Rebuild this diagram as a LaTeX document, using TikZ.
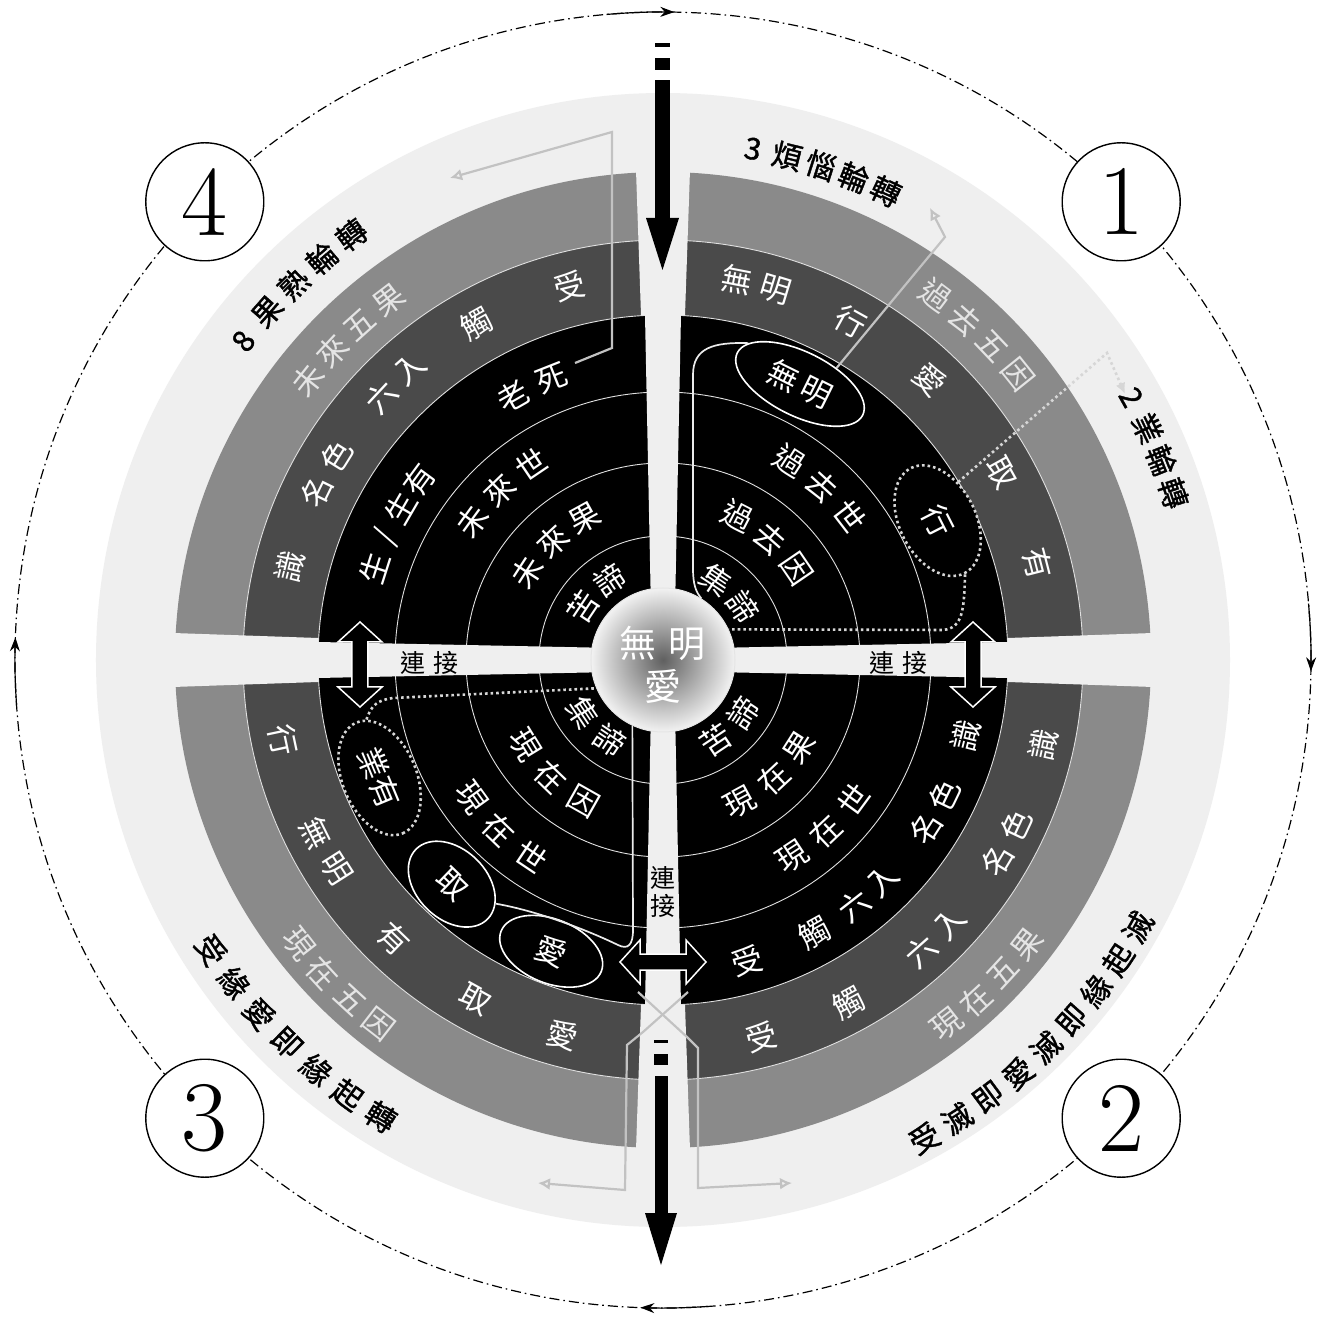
\documentclass[tikz,border=0pt]{standalone}
\usepackage{fontspec}
\newfontfamily\cjk{Noto Sans CJK TC}
\newfontfamily\cjkb{Noto Sans CJK TC}[FakeBold=1.2]
\usetikzlibrary{arrows.meta,shapes.geometric}
\definecolor{lband}{HTML}{8A8A8A}
\definecolor{dband}{HTML}{4A4A4A}
\definecolor{disk}{HTML}{EFEFEF}
\definecolor{lineg}{HTML}{C2C2C2}
\definecolor{bandtext}{HTML}{E4E4E4}
\definecolor{dotc}{HTML}{D6D6D6}
% text along an arc, upper half (reads clockwise, tops outward)
\newcommand\arcT[6][]{%
  \foreach \ch [count=\i] in {#6} {\xdef\wcnt{\i}}%
  \foreach \ch [count=\i] in {#6} {%
    \pgfmathsetmacro\wang{#3+((\wcnt+1)/2-\i)*((#4)/(#2))*57.29578}%
    \node[ringtxt,#1,rotate=\wang-90] (#5-\i) at (\wang:#2) {\ch};%
  }%
}
% text along an arc, lower half (reads counter-clockwise, tops inward)
\newcommand\arcB[6][]{%
  \foreach \ch [count=\i] in {#6} {\xdef\wcnt{\i}}%
  \foreach \ch [count=\i] in {#6} {%
    \pgfmathsetmacro\wang{#3-((\wcnt+1)/2-\i)*((#4)/(#2))*57.29578}%
    \node[ringtxt,#1,rotate=\wang+90] (#5-\i) at (\wang:#2) {\ch};%
  }%
}
\newcommand\dblV[3]{%
  \filldraw[fill=black,draw=white,line width=1.5pt] (#1,#2) -- (#1+22,#2-20) -- (#1+8,#2-20) -- (#1+8,#3+20) -- (#1+22,#3+20) -- (#1,#3) -- (#1-22,#3+20) -- (#1-8,#3+20) -- (#1-8,#2-20) -- (#1-22,#2-20) -- cycle;}
\newcommand\dblH[3]{%
  \filldraw[fill=black,draw=white,line width=1.5pt] (#2,#1) -- (#2+20,#1+22) -- (#2+20,#1+8) -- (#3-20,#1+8) -- (#3-20,#1+22) -- (#3,#1) -- (#3-20,#1-22) -- (#3-20,#1-8) -- (#2+20,#1-8) -- (#2+20,#1-22) -- cycle;}
\begin{document}
\begin{tikzpicture}[x=1pt,y=1pt,
  ringtxt/.style={text=white,font=\cjk\fontsize{31}{31}\selectfont,inner sep=0pt},
  bandtxt/.style={text=bandtext},
  outtxt/.style={text=black,font=\cjkb\fontsize{30}{30}\selectfont},
  ellsolid/.style={ellipse,draw=white,line width=1.6pt,fill=black,text=white,inner sep=0pt,font=\cjk\fontsize{31}{31}\selectfont},
  elldot/.style={ellipse,draw=dotc,line width=2.6pt,dash pattern=on 2.6pt off 3pt,fill=black,text=white,inner sep=0pt,font=\cjk\fontsize{31}{31}\selectfont},
  lasso/.style={draw=white!92!black,line width=1.7pt},
  dotline/.style={draw=dotc,line width=2.6pt,dash pattern=on 2.6pt off 3pt},
  lightline/.style={draw=lineg,line width=2.2pt,-{Latex[open,length=12pt,width=12pt]}},
  conn/.style={text=black,font=\cjk\fontsize{25}{28}\selectfont,inner sep=0pt},
  numc/.style={circle,draw=black,line width=1.4pt,fill=white,minimum size=118,inner sep=0pt,font=\fontsize{100}{100}\selectfont},
  dashcirc/.style={draw=black,line width=1.2pt,dash pattern=on 10pt off 4pt on 1.6pt off 4pt}]
\useasboundingbox (-663,-659) rectangle (667,660);
\fill[white] (-663,-659) rectangle (667,660);
% dashed orbit
\draw[dashcirc] (0,0) circle (648);
\foreach \a in {89,-1,268,178}
  \draw[line width=1.2pt,-{Stealth[length=14pt,width=10pt]}] (\a+6:648) arc[start angle=\a+6,end angle=\a,radius=648];
% disk and bands
\fill[disk] (0,0) circle (567);
\fill[lband] (0,0) circle (488);
\fill[dband] (0,0) circle (420);
\fill[black] (0,0) circle (345);
\foreach \r in {124,197,268,345,420} \draw[white!88!black,line width=0.9pt] (0,0) circle (\r);
% cross gap
\foreach \a in {0,90,180,270}
  \fill[disk,rotate=\a] (-11,0) -- (-18,345) -- (-22,345) -- (-27,490) -- (27,490) -- (22,345) -- (18,345) -- (11,0) -- cycle;
% ---- Quadrant 1 (upper right)
\arcT{96}{45}{38}{qa}{集,諦}
\arcT{162}{48.5}{40}{qb}{過,去,因}
\arcT{236}{47.5}{41}{qc}{過,去,世}
\arcT{387}{76}{40}{qd1}{無,明}
\arcT{387}{61}{36}{qd2}{行}
\arcT{387}{46.5}{36}{qd3}{愛}
\arcT{387}{29}{36}{qd4}{取}
\arcT{387}{14.5}{36}{qd5}{有}
\arcT[bandtxt]{455}{46}{38}{qe}{過,去,五,因}
% ---- Quadrant 2 (upper left)
\arcT{96}{135}{38}{ra}{苦,諦}
\arcT{162}{133}{40}{rb}{未,來,果}
\arcT{236}{134}{41}{rc}{未,來,世}
\arcT{303}{153}{33}{rd1}{生,/,生,有}
\arcT{303}{115.6}{43}{rd2}{老,死}
\arcT{385}{104}{36}{re1}{受}
\arcT{385}{119}{36}{re2}{觸}
\arcT{385}{134}{40}{re3}{六,入}
\arcT{385}{151}{40}{re4}{名,色}
\arcT{385}{166}{36}{re5}{識}
\arcT[bandtxt]{452}{134.5}{38}{rf}{未,來,五,果}
% ---- Quadrant 3 (lower left)
\arcB{96}{225}{38}{sa}{集,諦}
\arcB{162}{226}{41}{sb}{現,在,因}
\arcB{236}{226}{42}{sc}{現,在,世}
\arcB{388}{192}{36}{sd1}{行}
\arcB{388}{209.5}{40}{sd2}{無,明}
\arcB{388}{226}{36}{sd3}{有}
\arcB{388}{241}{36}{sd4}{取}
\arcB{388}{255}{36}{sd5}{愛}
\arcB[bandtxt]{462}{225}{38}{se}{現,在,五,因}
% ---- Quadrant 4 (lower right)
\arcB{96}{315}{38}{ta}{苦,諦}
\arcB{162}{313}{41}{tb}{現,在,果}
\arcB{236}{313.5}{42}{tc}{現,在,世}
\arcB{312}{285.6}{36}{td1}{受}
\arcB{312}{299}{36}{td2}{觸}
\arcB{312}{311.4}{38}{td3}{六,入}
\arcB{312}{330.8}{38}{td4}{名,色}
\arcB{312}{346}{36}{td5}{識}
\arcB{390}{284.7}{36}{te1}{受}
\arcB{390}{298.4}{36}{te2}{觸}
\arcB{390}{314.5}{40}{te3}{六,入}
\arcB{390}{332}{40}{te4}{名,色}
\arcB{390}{347.5}{36}{te5}{識}
\arcB[bandtxt]{462}{315}{38}{tf}{現,在,五,果}
% centre ball
\node[circle,minimum size=144,inner sep=0pt,inner color=gray!75!black,outer color=gray!10,draw=white!90!black,line width=1pt] (ball) at (0,0) {};
% ellipses
\node[ellsolid,minimum width=140,minimum height=64,rotate=-26.4] (e1) at (137,276) {無\hspace{6pt}明};
\node[elldot,minimum width=118,minimum height=76,rotate=-63] (e2) at (26.9:308) {行};
\node[elldot,minimum width=120,minimum height=74,rotate=-67.4] (e3) at (202.6:307) {業有};
\node[ellsolid,minimum width=100,minimum height=70,rotate=-44] (e4) at (226.7:308) {取};
\node[ellsolid,minimum width=108,minimum height=64,rotate=-22] (e5) at (249:312) {愛};
% lasso lines
\draw[lasso] (e1.168) .. controls (50,318) and (30,312) .. (30,285) -- (30,92) .. controls (30,75) and (33,68) .. (ball.58);
\draw[lasso] (e4.20) .. controls (-130,-250) and (-80,-268) .. (-45,-285) .. controls (-35,-290) and (-30,-285) .. (-30,-270) -- (ball.245);
% dotted links
\draw[dotline] (e2.east) .. controls (301,50) and (300,32) .. (280,30) -- (ball.25);
\draw[dotline] (e3.170) .. controls (-292,-45) and (-285,-40) .. (-270,-38) -- (ball.203);
\coordinate (k1) at (444,307);
\coordinate (k2) at (462,266);
\draw[dotline,-{Latex[length=11pt,width=10pt]}] (e2.125) -- (k1) -- (k2);
% light arrows
\coordinate (a1) at (282,423);
\coordinate (a2) at (267,452);
\draw[lightline] (e1.50) -- (a1) -- (a2);
\coordinate (b0) at (-88,297);
\coordinate (b1) at (-51,312);
\coordinate (b2) at (-51,528);
\coordinate (b3) at (-213,482);
\draw[lightline] (b0) -- (b1) -- (b2) -- (b3);
\coordinate (c0) at (-25,-332);
\coordinate (c1) at (24,-377);
\coordinate (c2) at (35,-388);
\coordinate (c3) at (35,-528);
\coordinate (c4) at (129,-523);
\draw[lightline] (c0) -- (c1) -- (c2) -- (c3) -- (c4);
\coordinate (d0) at (25,-332);
\coordinate (d1) at (-20,-372);
\coordinate (d2) at (-36,-385);
\coordinate (d3) at (-38,-530);
\coordinate (d4) at (-125,-523);
\draw[lightline] (d0) -- (d1) -- (d2) -- (d3) -- (d4);
% ball text
\node[text=white,font=\cjk\fontsize{37}{37}\selectfont,inner sep=0pt] (balltop) at (0,17) {無\hspace{12pt}明};
\node[text=white,font=\cjk\fontsize{37}{37}\selectfont,inner sep=0pt] (ballbot) at (0,-26) {愛};
% double arrows
\dblV{-303}{38}{-47}
\dblV{310}{38}{-47}
\dblH{-302}{-43}{43}
% connector labels
\node[conn] (connL) at (-233,-3) {連\hspace{8pt}接};
\node[conn] (connR) at (235,-3) {連\hspace{8pt}接};
\node[conn,align=center] (connB) at (0,-232) {連\\接};
% black vertical arrows
\fill[black] (-8,613) rectangle (7,617);
\fill[black] (-8,590) rectangle (7,602);
\fill[black] (-8,442) rectangle (7,580);
\fill[black] (-17,442) -- (16,442) -- (-0.5,390) -- cycle;
\fill[black] (-9,-380) rectangle (5,-383);
\fill[black] (-9,-394) rectangle (5,-405);
\fill[black] (-8,-416) rectangle (5,-553);
\fill[black] (-18,-553) -- (14,-553) -- (-2,-605) -- cycle;
% outer labels
\arcT[outtxt]{519}{72.3}{35}{la}{3,煩,惱,輪,轉}
\arcT[outtxt]{537}{23.7}{35}{lb}{2,業,輪,轉}
\arcT[outtxt]{527}{134.5}{38}{lc}{8,果,熟,輪,轉}
\arcB[outtxt]{537}{225.5}{40}{ld}{受,緣,愛,即,緣,起,轉}
\arcB[outtxt]{545}{314.65}{38}{le}{受,滅,即,愛,滅,即,緣,起,滅}
% numbered circles
\node[numc] (n1) at (45:648) {1};
\node[numc] (n2) at (-45:648) {2};
\node[numc] (n3) at (225:648) {3};
\node[numc] (n4) at (135:648) {4};
\end{tikzpicture}
\end{document}
